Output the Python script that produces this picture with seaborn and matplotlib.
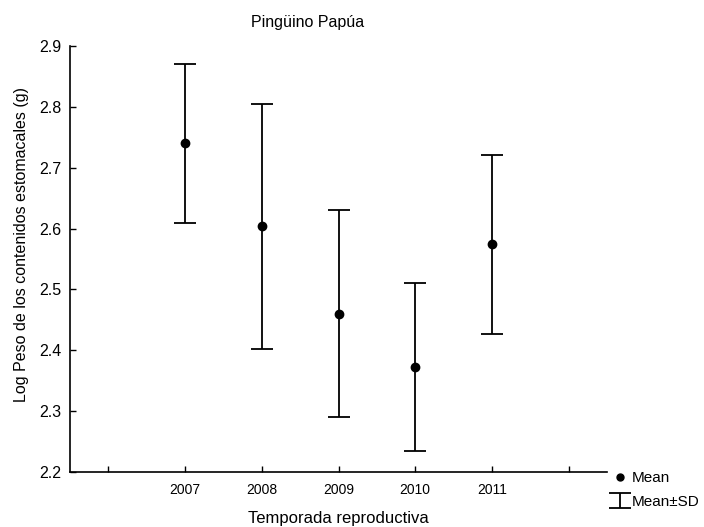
import matplotlib
matplotlib.use("Agg")
import matplotlib.pyplot as plt
import seaborn as sns
import pandas as pd
from matplotlib.lines import Line2D

years = ["2007", "2008", "2009", "2010", "2011"]
means = [2.740, 2.604, 2.460, 2.373, 2.574]
sds = [0.131, 0.2015, 0.170, 0.138, 0.1465]
order = [" ", "2007", "2008", "2009", "2010", "2011", "  "]

title = "Pingüino Papúa"
xlabel = "Temporada reproductiva"
ylabel = "Log Peso de los contenidos estomacales (g)"

sns.set_theme(style="ticks")
plt.rcParams["font.family"] = ["Liberation Sans", "DejaVu Sans"]
plt.rcParams["text.color"] = "black"
plt.rcParams["xtick.labelcolor"] = "black"
plt.rcParams["ytick.labelcolor"] = "black"

df = pd.DataFrame({"year": years, "mean": means, "sd": sds})

fig = plt.figure(figsize=(7.04, 5.27), dpi=100)
ax = fig.add_axes([70 / 704, 1 - 472 / 527, (607 - 70) / 704, (472 - 46) / 527])

sns.pointplot(data=df, x="year", y="mean", order=order, linestyle="none",
              color="black", markers="o", markersize=5, errorbar=None, ax=ax)
xpos = [order.index(y) for y in years]
eb = ax.errorbar(xpos, df["mean"], yerr=df["sd"], fmt="none", ecolor="black",
                 elinewidth=1.3, capsize=8, capthick=1.3)
if ax.get_legend() is not None:
    ax.get_legend().remove()

ax.set_xlim(-0.5, len(order) - 0.5)
ax.set_ylim(2.2, 2.9)
ax.set_yticks([2.2, 2.3, 2.4, 2.5, 2.6, 2.7, 2.8, 2.9])
ax.set_xticks(range(len(order)))
ax.set_xticklabels([o.strip() for o in order])
ax.tick_params(axis="both", direction="in", length=4, width=1, color="black")
ax.tick_params(axis="x", labelsize=10, pad=8)
ax.tick_params(axis="y", labelsize=11.5, pad=6)
for s in ["top", "right"]:
    ax.spines[s].set_visible(False)
for s in ["left", "bottom"]:
    ax.spines[s].set_color("black")
    ax.spines[s].set_linewidth(1.2)

ax.set_xlabel("")
ax.set_ylabel("")
fig.text(22 / 704, 1 - 245 / 527, ylabel, rotation=90, ha="center", va="center",
         fontsize=11.5)
fig.text(338 / 704, 1 - 518 / 527, xlabel, ha="center", va="center", fontsize=12)
fig.text(308 / 704, 1 - 22 / 527, title, ha="center", va="center", fontsize=11.5)

mean_handle = Line2D([], [], marker="o", color="black", linestyle="none", markersize=5)
fig.legend([mean_handle, eb], ["Mean", "Mean±SD"], loc="upper left",
           bbox_to_anchor=(614 / 704, 1 - 471 / 527), frameon=False, fontsize=11,
           handlelength=0.8, handletextpad=0.35, labelspacing=0.65, borderpad=0.0,
           borderaxespad=0.0)

fig.savefig("out.png", dpi=100)
